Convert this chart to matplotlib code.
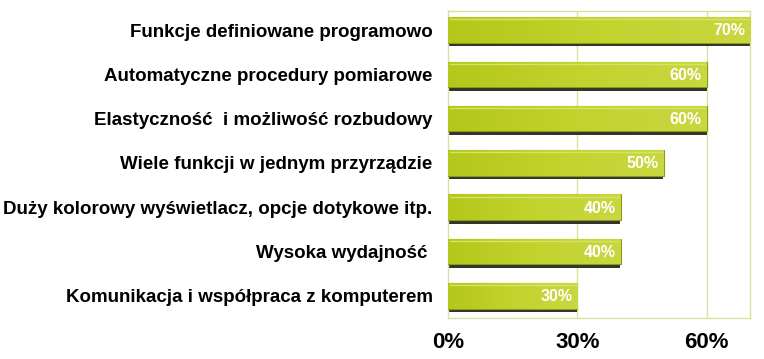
import matplotlib
matplotlib.use("Agg")
import matplotlib.pyplot as plt
import numpy as np
from matplotlib.colors import LinearSegmentedColormap

categories = [
    "Funkcje definiowane programowo",
    "Automatyczne procedury pomiarowe",
    "Elastyczność  i możliwość rozbudowy",
    "Wiele funkcji w jednym przyrządzie",
    "Duży kolorowy wyświetlacz, opcje dotykowe itp.",
    "Wysoka wydajność ",
    "Komunikacja i współpraca z komputerem",
]
values = [70, 60, 60, 50, 40, 40, 30]
xticks = [0, 30, 60]
xticklabels = ["0%", "30%", "60%"]

plt.rcParams['font.family'] = ['Liberation Sans', 'DejaVu Sans']

fig = plt.figure(figsize=(7.64, 3.59), dpi=100)
ax = fig.add_axes([448/764, 1-318/359, 302/764, 307/359])

y = np.arange(len(categories))
h = 0.58
grid_c = "#d6e3a0"

ax.set_xlim(0, 70)
ax.set_ylim(6.5, -0.43)

for xv in xticks[1:]:
    ax.axvline(xv, color=grid_c, lw=1, zorder=0)

cmap = LinearSegmentedColormap.from_list("g", ["#b4c71a", "#c2d32e", "#c9d740"])
grad = np.linspace(0, 1, 256).reshape(1, -1)

for yi, v in zip(y, values):
    # shadow
    ax.barh(yi + 0.08, v + 0.3, height=h, left=-0.35, color="#33342c", zorder=2)
    bar = ax.barh(yi, v, height=h, color="#bccd24", edgecolor="#8a9a12", lw=0.8, zorder=3)[0]
    im = ax.imshow(grad, cmap=cmap, aspect="auto", extent=[0, v, yi + h/2, yi - h/2],
                   zorder=3.5, interpolation="bilinear")
    im.set_clip_path(bar)
    ax.plot([0.4, v - 0.4], [yi - h/2 + 0.05, yi - h/2 + 0.05], color="#d6e268", lw=1, zorder=4)
    ax.text(v - 1.2, yi + 0.02, f"{v}%", color="white", fontsize=11.5, fontweight="bold",
            ha="right", va="center", zorder=5)

ax.set_yticks(y)
ax.set_yticklabels(categories, fontsize=13.5, fontweight="bold")
ax.set_xticks(xticks)
ax.set_xticklabels(xticklabels, fontsize=16, fontweight="bold")
ax.tick_params(axis="both", length=0)
ax.tick_params(axis="y", pad=11)
ax.tick_params(axis="x", pad=10)

for s in ax.spines.values():
    s.set_color(grid_c)
    s.set_linewidth(1)

fig.savefig("out.png", dpi=100, facecolor="white")
